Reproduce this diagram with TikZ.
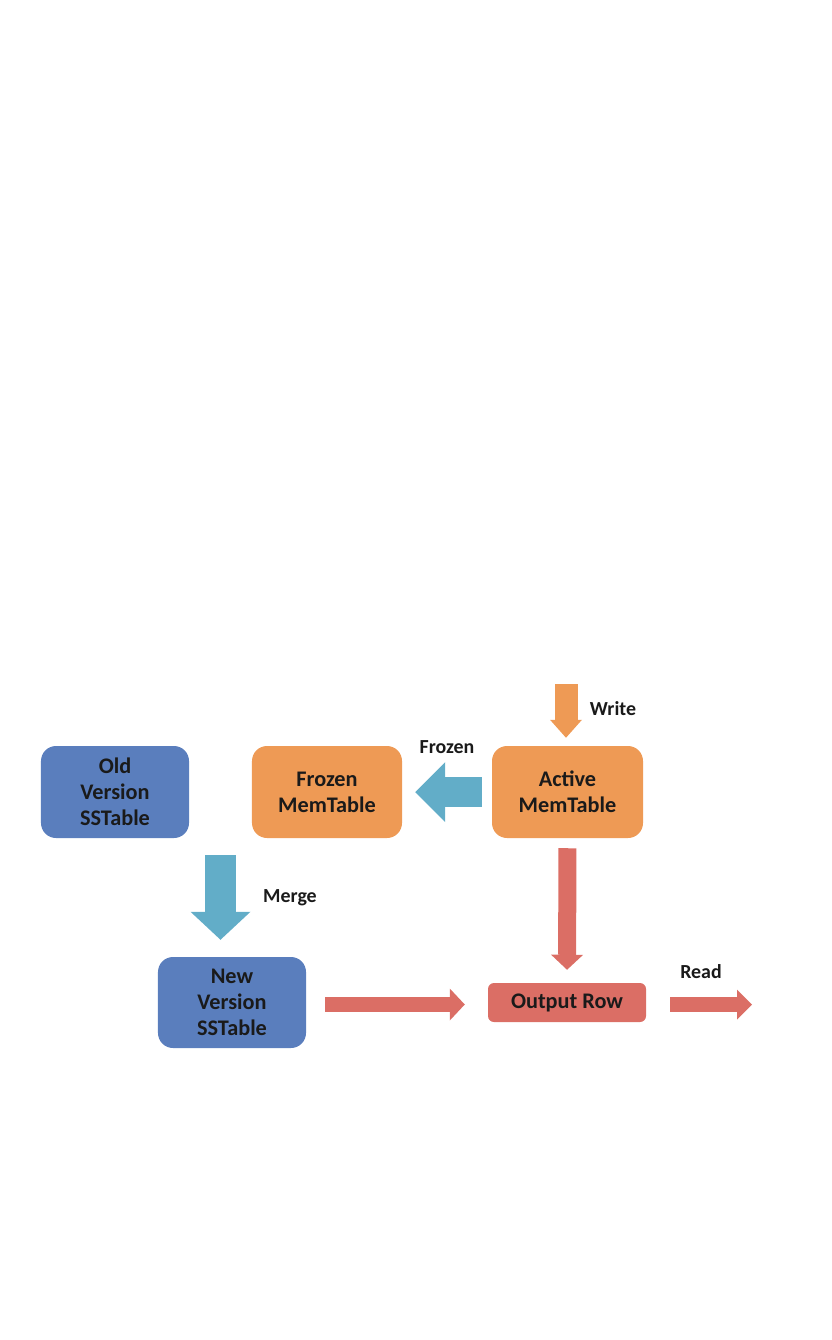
\documentclass[tikz,border=0pt]{standalone}
\usepackage{fontspec}
\setmainfont{Carlito}
\usetikzlibrary{arrows.meta}

\definecolor{boxblue}{HTML}{5A7EBD}
\definecolor{boxorange}{HTML}{EE9A55}
\definecolor{arrowteal}{HTML}{62ADC8}
\definecolor{arrowred}{HTML}{DB6E65}
\definecolor{txt}{HTML}{1A1A1A}

\tikzset{
    box/.style={rounded corners=0.45cm, inner sep=0pt, align=center, text=txt,
        minimum width=4.44cm, minimum height=2.76cm,
        font=\bfseries\fontsize{19}{22.2}\selectfont},
    lbl/.style={text=txt, inner sep=0pt, font=\bfseries\fontsize{17}{20}\selectfont}
}

\begin{document}
\begin{tikzpicture}[x=0.03cm, y=-0.03cm]

    \useasboundingbox (0,0) rectangle (831,1340);

    % Top row of boxes
    \node[box, fill=boxblue] (old) at (115,792) {Old\\Version\\SSTable};
    \node[box, fill=boxorange, minimum width=4.5cm] (frozen) at (327,792) {Frozen\\MemTable};
    \node[box, fill=boxorange, minimum width=4.53cm] (active) at (567.5,792) {Active\\MemTable};

    % Bottom row of boxes
    \node[box, fill=boxblue, minimum height=2.73cm] (new) at (232,1002.5) {New\\Version\\SSTable};
    \node[box, fill=arrowred, rounded corners=0.18cm, minimum width=4.74cm, minimum height=1.17cm] (out) at (567,1002.5) {Output Row};

    % Write into the active table
    \coordinate (w) at (566,684);
    \draw[boxorange, line width=0.69cm, shorten >=0.24cm,
        -{Triangle[width=0.96cm, length=0.54cm, line width=0pt]}] (w) -- (w |- active.north);
    \node[lbl] (write) at (613,709) {Write};

    % Freeze
    \draw[arrowteal, line width=0.9cm, shorten <=0.3cm, shorten >=0.39cm,
        -{Triangle[width=1.8cm, length=0.9cm, line width=0pt]}] (active.west) -- (frozen.east);
    \node[lbl] (frz) at (447,747) {Frozen};

    % Merge into the new version
    \coordinate (m) at (220.5,900);
    \draw[arrowteal, line width=0.93cm, shorten <=0.51cm, shorten >=0.51cm,
        -{Triangle[width=1.8cm, length=0.84cm, line width=0pt]}] (m |- old.south) -- (m |- new.north);
    \node[lbl] (merge) at (290,898) {Merge};

    % Reading paths
    \draw[arrowred, line width=0.54cm, shorten <=0.3cm, shorten >=0.39cm,
        -{Triangle[width=0.96cm, length=0.45cm, line width=0pt]}] (active.south) -- (out.north);
    \draw[arrowred, line width=0.45cm, shorten <=0.57cm, shorten >=0.69cm,
        -{Triangle[width=0.96cm, length=0.45cm, line width=0pt]}] ([yshift=-0.06cm]new.east) -- ([yshift=-0.06cm]out.west);
    \coordinate (r) at (752,1004.5);
    \draw[arrowred, line width=0.45cm, shorten <=0.72cm,
        -{Triangle[width=0.9cm, length=0.45cm, line width=0pt]}] ([yshift=-0.06cm]out.east) -- (r);
    \node[lbl] (read) at (701,972) {Read};

\end{tikzpicture}
\end{document}
